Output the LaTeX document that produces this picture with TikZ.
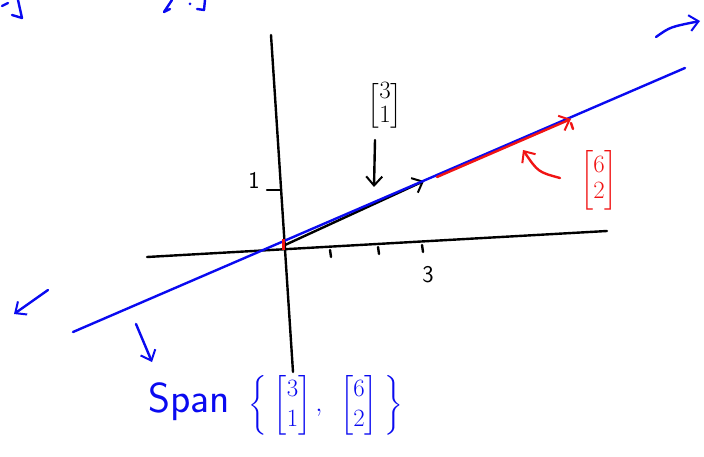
\documentclass[tikz,border=0pt]{standalone}
\usepackage{amsmath}
\usetikzlibrary{arrows.meta}
\definecolor{inkblue}{RGB}{10,10,240}
\definecolor{inkred}{RGB}{240,20,20}
\tikzset{
  ink/.style={line width=2.4pt, line cap=round, line join=round},
  head/.style={-{Straight Barb[length=9pt,width=16pt,line width=2pt]}},
  lbl/.style={inner sep=0pt, font=\sffamily},
}
\begin{document}
\begin{tikzpicture}[x=1pt,y=-1pt]
\useasboundingbox (0,0) rectangle (704,457);
% coordinates
\coordinate (ytop) at (271,35);
\coordinate (ybot) at (293,372);
\coordinate (xl) at (147,257);
\coordinate (xr) at (607,231);
\coordinate (O) at (285,245);
\coordinate (v1) at (424,181);
\coordinate (r0) at (437,177);
\coordinate (r1) at (571,119);
\coordinate (bl) at (73,332);
\coordinate (br) at (685,68);
% axes
\draw[ink,black] (ytop) -- (ybot);
\draw[ink,black] (xl) -- (xr);
\foreach \x/\y in {330/250, 378/247, 422/245}{
  \draw[ink,black] (\x,\y) -- (\x+1,\y+7);
}
\draw[ink,black] (267,190) -- (281,190);
\node[lbl,font=\sffamily\fontsize{24}{24}\selectfont] (one) at (254,180) {1};
\node[lbl,font=\sffamily\fontsize{24}{24}\selectfont] (three) at (428,275) {3};
% black vector
\draw[ink,black,head] (O) -- (v1);
% blue span line
\draw[ink,inkblue] (bl) -- (br);
% red vector
\draw[ink,inkred,head] (r0) -- (r1);
\draw[ink,inkred] (571,123) -- (573,129);
\draw[line width=3pt,inkred] (283,239) -- (283,250);
% black label
\node[lbl,font=\sffamily\fontsize{24}{24}\selectfont] (lab1) at (385,106) {$\begin{bmatrix}3\\1\end{bmatrix}$};
\coordinate (a1s) at (375,140);
\coordinate (a1e) at (374,187);
\draw[ink,black,head] (a1s) -- (a1e);
% red label
\node[lbl,inkred,font=\sffamily\fontsize{26}{26}\selectfont] (lab2) at (599,180) {$\begin{bmatrix}6\\2\end{bmatrix}$};
\coordinate (a2s) at (560,178);
\coordinate (a2e) at (523,150);
\draw[ink,inkred,head] (a2s) .. controls (538,172) .. (a2e);
% blue arrows at ends
\coordinate (t1) at (656,37);
\coordinate (t2) at (700,21);
\draw[ink,inkblue,head] (t1) .. controls (670,27) .. (t2);
\coordinate (bl1) at (48,290);
\coordinate (bl2) at (14,314);
\draw[ink,inkblue,head] (bl1) -- (bl2);
\coordinate (s1) at (136,324);
\coordinate (s2) at (152,362);
\draw[ink,inkblue,head] (s1) -- (s2);
% span text
\node[lbl,inkblue,anchor=west,font=\sffamily\fontsize{42}{42}\selectfont] (span) at (148,402) {Span};
\node[lbl,inkblue,anchor=west,font=\sffamily\fontsize{40}{40}\selectfont] (set) at (248,405)
  {\renewcommand{\arraystretch}{0.75}$\left\{\;\begin{bmatrix}3\\1\end{bmatrix},\;\;\begin{bmatrix}6\\2\end{bmatrix}\;\right\}$};
% cut-off fragments at the top
\draw[ink,inkblue] (2,6) -- (8,3);
\draw[ink,inkblue] (18,0) -- (22,18) -- (12,15);
\draw[ink,inkblue] (172,0) -- (164,12) -- (170,9);
\fill[inkblue] (190,4) circle (1.5);
\draw[ink,inkblue] (205,0) -- (204,10) -- (197,9);
\end{tikzpicture}
\end{document}
